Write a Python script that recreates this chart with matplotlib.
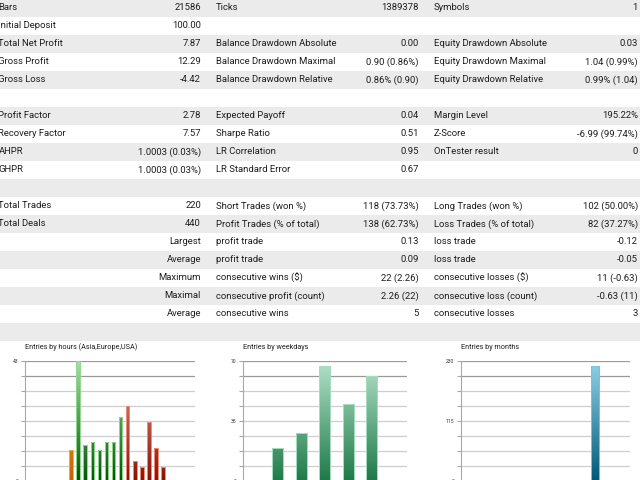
import numpy as np
import matplotlib
matplotlib.use("Agg")
import matplotlib.pyplot as plt
from matplotlib.colors import LinearSegmentedColormap

plt.rcParams['font.family'] = ['Roboto', 'DejaVu Sans']

# ---- report table ----
col1_labels = ["Bars", "Initial Deposit", "Total Net Profit", "Gross Profit", "Gross Loss", "",
               "Profit Factor", "Recovery Factor", "AHPR", "GHPR", "",
               "Total Trades", "Total Deals", "", "", "", "", ""]
col1_values = ["21586", "100.00", "7.87", "12.29", "-4.42", "",
               "2.78", "7.57", "1.0003 (0.03%)", "1.0003 (0.03%)", "",
               "220", "440", "Largest", "Average", "Maximum", "Maximal", "Average"]
col2_labels = ["Ticks", "", "Balance Drawdown Absolute", "Balance Drawdown Maximal",
               "Balance Drawdown Relative", "",
               "Expected Payoff", "Sharpe Ratio", "LR Correlation", "LR Standard Error", "",
               "Short Trades (won %)", "Profit Trades (% of total)", "profit trade", "profit trade",
               "consecutive wins ($)", "consecutive profit (count)", "consecutive wins"]
col2_values = ["1389378", "", "0.00", "0.90 (0.86%)", "0.86% (0.90)", "",
               "0.04", "0.51", "0.95", "0.67", "",
               "118 (73.73%)", "138 (62.73%)", "0.13", "0.09", "22 (2.26)", "2.26 (22)", "5"]
col3_labels = ["Symbols", "", "Equity Drawdown Absolute", "Equity Drawdown Maximal",
               "Equity Drawdown Relative", "",
               "Margin Level", "Z-Score", "OnTester result", "", "",
               "Long Trades (won %)", "Loss Trades (% of total)", "loss trade", "loss trade",
               "consecutive losses ($)", "consecutive loss (count)", "consecutive losses"]
col3_values = ["1", "", "0.03", "1.04 (0.99%)", "0.99% (1.04)", "",
               "195.22%", "-6.99 (99.74%)", "0", "", "",
               "102 (50.00%)", "82 (37.27%)", "-0.12", "-0.05", "11 (-0.63)", "-0.63 (11)", "3"]

# ---- entries histograms ----
hours_asia = [6]
entries_asia = [11]
hours_europe = [7, 8, 9, 10, 11, 12, 13]
entries_europe = [43, 13, 14, 11, 14, 14, 23]
hours_usa = [14, 15, 16, 17, 18, 19]
entries_usa = [27, 7, 5, 21, 12, 5]

weekdays = [1, 2, 3, 4, 5]
entries_weekdays = [19, 28, 67, 45, 61]

months = [9]
entries_months = [220]

TEXT = "#1e1e1e"
ROW_GRAY = "#ebebeb"
FS = 6.8


def grad(name, bottom, top):
    return LinearSegmentedColormap.from_list(name, [bottom, top])


def gradient_bars(ax, x, h, ymax, cmap, edge, width=0.5):
    """bars filled with a vertical gradient measured on the whole axis height"""
    bars = ax.bar(x, h, width=width, facecolor="none", edgecolor=edge, lw=0.7, zorder=4)
    for b in bars:
        x0, hh = b.get_x(), b.get_height()
        arr = np.linspace(hh / ymax, 0, 64)[:, None]
        im = ax.imshow(arr, extent=(x0, x0 + b.get_width(), 0, hh), aspect="auto",
                       cmap=cmap, vmin=0, vmax=1, origin="upper", zorder=3)
        im.set_clip_path(b)
    return bars


def setup_chart(ax, n, ymax, labels, title):
    ax.set_xlim(-0.5, n - 0.5)
    ax.set_ylim(0, ymax)
    ticks = [ymax * k / 8 for k in range(9)]
    ax.set_yticks(ticks)
    ax.set_yticklabels([labels.get(k, "") for k in range(9)], fontsize=3.6, color="#333333")
    ax.set_xticks([])
    for k, t in enumerate(ticks):
        c = "#9a9a9a" if k >= 7 else "#cfcfcf"
        ax.axhline(t, color=c, lw=0.9, zorder=1)
    for s in ("top", "right", "bottom"):
        ax.spines[s].set_visible(False)
    ax.spines["left"].set_color("#a8a8a8")
    ax.tick_params(axis="y", length=3, color="#a8a8a8", pad=1.5)
    ax.set_facecolor("none")
    ax.text(0, 1.0, title, transform=ax.transAxes, fontsize=5.2, color=TEXT,
            ha="left", va="bottom", position=(0, 1.08))


def main():
    fig = plt.figure(figsize=(6.4, 4.8), dpi=100)
    base = fig.add_axes([0, 0, 1, 1])
    base.set_xlim(0, 640)
    base.set_ylim(480, 0)
    base.axis("off")

    # alternating row stripes
    for i in range(0, 19, 2):
        base.add_patch(plt.Rectangle((0, 18 * i - 1), 640, 18, color=ROW_GRAY, lw=0, zorder=0))

    for i in range(len(col1_labels)):
        y = 8 + 18 * i
        base.text(-1.5, y, col1_labels[i], ha="left", va="center", fontsize=FS, color=TEXT)
        base.text(201, y, col1_values[i], ha="right", va="center", fontsize=FS, color=TEXT)
        base.text(216, y, col2_labels[i], ha="left", va="center", fontsize=FS, color=TEXT)
        base.text(419, y, col2_values[i], ha="right", va="center", fontsize=FS, color=TEXT)
        base.text(434, y, col3_labels[i], ha="left", va="center", fontsize=FS, color=TEXT)
        base.text(638, y, col3_values[i], ha="right", va="center", fontsize=FS, color=TEXT)

    def px_axes(left, right, top, bottom):
        return fig.add_axes([left / 640, (480 - bottom) / 480,
                             (right - left) / 640, (bottom - top) / 480])

    # hours
    ax1 = px_axes(25, 195, 361, 481)
    setup_chart(ax1, 24, 43, {0: "0", 8: "43"}, "Entries by hours (Asia,Europe,USA)")
    gradient_bars(ax1, hours_asia, entries_asia, 43,
                  grad("asia", "#c46200", "#f7b445"), "#f2aa38")
    gradient_bars(ax1, hours_europe, entries_europe, 43,
                  grad("eu", "#005800", "#a4dea4"), "#8fd88f")
    gradient_bars(ax1, hours_usa, entries_usa, 43,
                  grad("us", "#8a1200", "#f29a88"), "#ee8c7a")

    # weekdays
    ax2 = px_axes(242.7, 406.7, 361, 481)
    setup_chart(ax2, 7, 70, {0: "0", 4: "35", 8: "70"}, "Entries by weekdays")
    gradient_bars(ax2, weekdays, entries_weekdays, 70,
                  grad("wd", "#1f7a48", "#b2e2ca"), "#a6deC0".lower(), width=0.47)

    # months
    ax3 = px_axes(460.7, 630, 361, 481)
    setup_chart(ax3, 12, 230, {0: "0", 4: "115", 8: "230"}, "Entries by months")
    gradient_bars(ax3, months, entries_months, 230,
                  grad("mo", "#005a78", "#90d2e8"), "#6fc6df", width=0.57)

    fig.savefig("out.png", dpi=100)


if __name__ == "__main__":
    main()
